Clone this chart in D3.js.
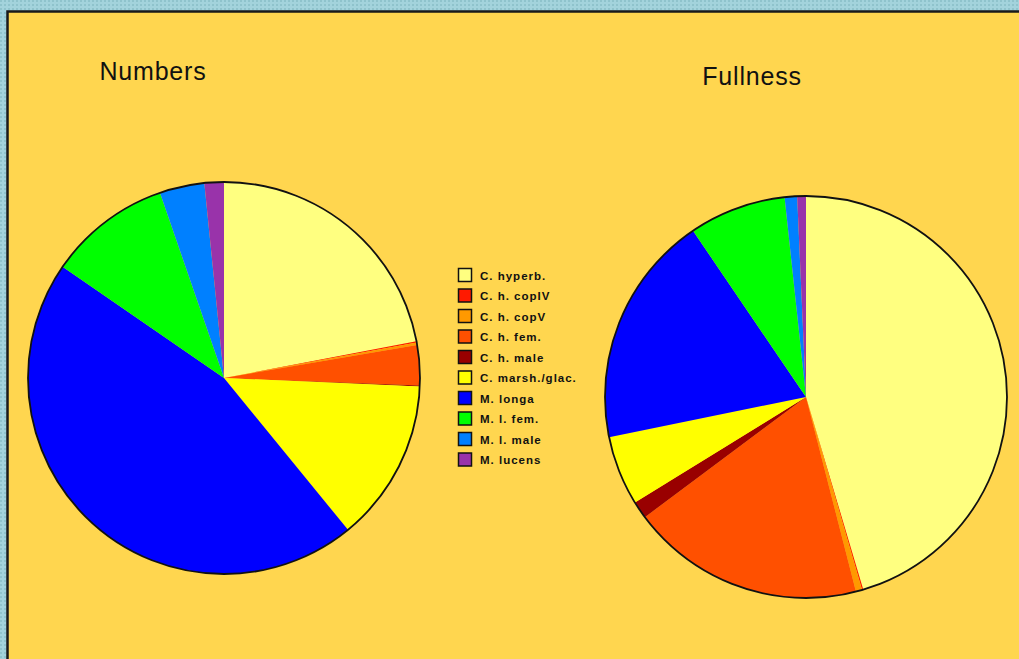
<!DOCTYPE html>
<html>
<head>
<meta charset="utf-8">
<script src="https://cdn.jsdelivr.net/npm/d3@7"></script>
<style>
  html, body { margin: 0; padding: 0; background: #9ccfd8; }
  svg { display: block; }
</style>
</head>
<body>
<svg id="chart" width="1019" height="659"></svg>
<script>
// Taxa in legend / slice order
const categories = ["C. hyperb.", "C. h. copIV", "C. h. copV", "C. h. fem.", "C. h. male",
  "C. marsh./glac.", "M. longa", "M. l. fem.", "M. l. male", "M. lucens"];
const colors = ["#ffff80", "#ff1a00", "#ff9900", "#ff5000", "#990000",
  "#ffff00", "#0000ff", "#00ff00", "#0080ff", "#9933aa"];
// Share of each taxon (%)
const numbersValues = [22.0, 0.1, 0.2, 3.3, 0.1, 13.4, 45.5, 10.1, 3.7, 1.6];
const fullnessValues = [45.4, 0.1, 0.5, 18.8, 1.4, 5.6, 18.7, 7.8, 1.0, 0.7];
const titles = ["Numbers", "Fullness"];

const svg = d3.select("#chart");
const W = 1019, H = 659;

// Dotted blue backdrop
const defs = svg.append("defs");
const pat = defs.append("pattern").attr("id", "dots").attr("width", 4).attr("height", 4)
  .attr("patternUnits", "userSpaceOnUse");
pat.append("rect").attr("width", 4).attr("height", 4).attr("fill", "#a3d3dc");
pat.append("rect").attr("x", 0).attr("y", 0).attr("width", 2).attr("height", 2).attr("fill", "#8fc3cc");
svg.append("rect").attr("width", W).attr("height", H).attr("fill", "url(#dots)");

// Chart panel
svg.append("rect").attr("x", 7.5).attr("y", 11.5).attr("width", W + 20).attr("height", H + 20)
  .attr("fill", "#ffd64f").attr("stroke", "#1a1a1a").attr("stroke-width", 2.5);

const pie = d3.pie().sort(null).value(d => d);
const color = d3.scaleOrdinal().domain(categories).range(colors);

function drawPie(values, cx, cy, r, title, tx, ty) {
  const g = svg.append("g").attr("transform", `translate(${cx},${cy})`);
  const arc = d3.arc().innerRadius(0).outerRadius(r);
  g.selectAll("path.slice").data(pie(values)).join("path")
    .attr("class", "slice")
    .attr("d", arc)
    .attr("fill", (d, i) => color(categories[i]));
  g.append("circle").attr("r", r).attr("fill", "none")
    .attr("stroke", "#111").attr("stroke-width", 1.8);
  svg.append("text").attr("x", tx).attr("y", ty).attr("text-anchor", "middle")
    .attr("font-family", "Liberation Sans, Arial, sans-serif").attr("font-size", 25)
    .attr("letter-spacing", 0.8)
    .attr("fill", "#111").text(title);
}

drawPie(numbersValues, 224, 378, 196, titles[0], 153, 80);
drawPie(fullnessValues, 806, 397, 201, titles[1], 752, 85);

// Legend
const legend = svg.append("g").attr("transform", "translate(458,268)");
const rows = legend.selectAll("g").data(categories).join("g")
  .attr("transform", (d, i) => `translate(0,${i * 20.5})`);
rows.append("rect").attr("x", 0.5).attr("y", 0.5).attr("width", 13).attr("height", 13)
  .attr("fill", d => color(d)).attr("stroke", "#111").attr("stroke-width", 1.5);
rows.append("text").attr("x", 22).attr("y", 11.5)
  .attr("font-family", "Liberation Sans, Arial, sans-serif").attr("font-size", 11.5)
  .attr("letter-spacing", 1)
  .attr("font-weight", "bold").attr("fill", "#111").text(d => d);
</script>
</body>
</html>
